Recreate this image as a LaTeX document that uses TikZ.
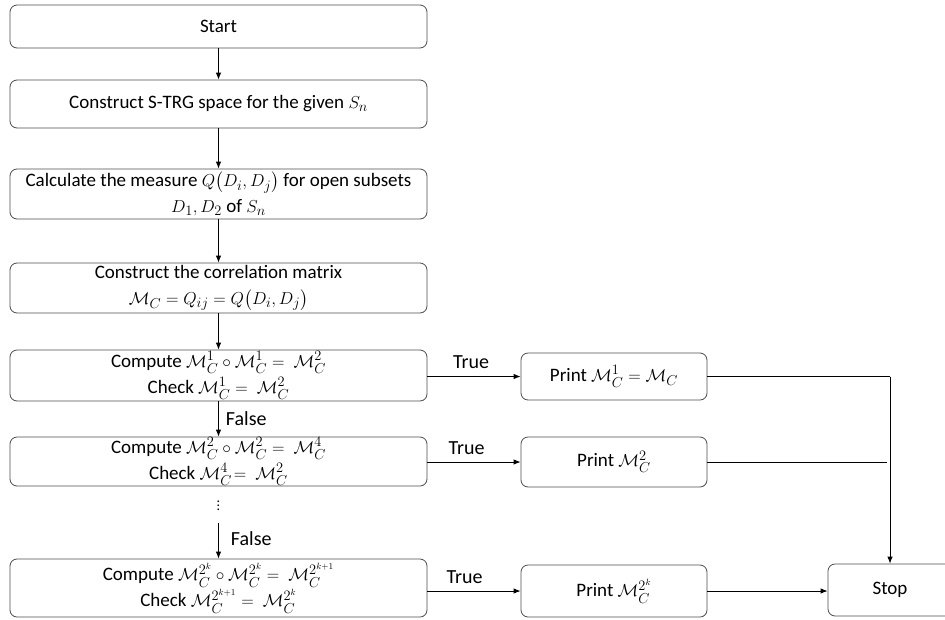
\documentclass[tikz,border=0pt]{standalone}
\usepackage{fontspec}
\setmainfont{Carlito}
\usepackage{amsmath}
\usetikzlibrary{arrows.meta}
\begin{document}
\begin{tikzpicture}[x=1pt,y=-1pt,
  box/.style={draw=black!70, line width=0.8pt, rounded corners=7pt, minimum width=417pt, inner sep=0pt, align=center, font=\fontsize{19}{26}\selectfont},
  pbox/.style={box, minimum width=186pt},
  arr/.style={-{Latex[length=7pt,width=5.5pt]}, line width=0.9pt},
  ln/.style={line width=0.9pt},
  lbl/.style={font=\fontsize{20}{22}\selectfont, inner sep=0pt}]
\useasboundingbox (0,0) rectangle (945,619);
\node[box, minimum height=43pt] (start) at (218.5,26.5) {Start};
\node[box, minimum height=48pt] (cons) at (218.5,104) {Construct S-TRG space for the given $S_n$};
\node[box, minimum height=50pt] (calc) at (218.5,194) {Calculate the measure $Q\big(D_i,D_j\big)$ for open subsets\\ $D_1,D_2$ of $S_n$};
\node[box, minimum height=50pt] (corr) at (218.5,288) {Construct the correlation matrix\\ $\mathcal{M}_C=Q_{ij}=Q\big(D_i,D_j\big)$};
\node[box, minimum height=51pt] (c1) at (218.5,375.5) {Compute $\mathcal{M}_C^1\circ\mathcal{M}_C^1 =\ \mathcal{M}_C^2$\\ Check $\mathcal{M}_C^1 =\ \mathcal{M}_C^2$};
\node[box, minimum height=49pt] (c2) at (218.5,461.5) {Compute $\mathcal{M}_C^2\circ\mathcal{M}_C^2 =\ \mathcal{M}_C^4$\\ Check $\mathcal{M}_C^4\!=\ \mathcal{M}_C^2$};
\node[font=\fontsize{14}{16}\selectfont, inner sep=0pt] (dots) at (218.5,503) {$\vdots$};
\node[box, minimum height=58pt] (ck) at (218.5,588) {Compute $\mathcal{M}_C^{2^k}\circ\mathcal{M}_C^{2^k} =\ \mathcal{M}_C^{2^{k+1}}$\\ Check $\mathcal{M}_C^{2^{k+1}} =\ \mathcal{M}_C^{2^k}$};

\node[pbox, minimum height=47pt] (p1) at (614,376.5) {Print $\mathcal{M}_C^1=\mathcal{M}_C$};
\node[pbox, minimum height=50pt] (p2) at (614,462) {Print $\mathcal{M}_C^2$};
\node[pbox, minimum height=52pt] (p3) at (614,591) {Print $\mathcal{M}_C^{2^k}$};
\node[box, minimum width=124pt, minimum height=52pt] (stop) at (890,590) {Stop};

\draw[arr] (start) -- (cons);
\draw[arr] (cons) -- (calc);
\draw[arr] (calc) -- (corr);
\draw[arr] (corr) -- (c1);
\draw[arr] (c1) -- node[lbl, right=7pt] {False} (c2);
\coordinate (d2) at (218.5,523);
\draw[arr] (d2) -- node[lbl, right=12pt, pos=0.45] {False} (ck);

\draw[arr] (c1.east |- p1) -- node[lbl, above=7pt, pos=0.47] {True} (p1.west);
\draw[arr] (c2.east |- p2) -- node[lbl, above=7pt, pos=0.42] {True} (p2.west);
\draw[arr] (ck.east |- p3) -- node[lbl, above=7pt, pos=0.4] {True} (p3.west);

\coordinate (j1) at (p1.east -| stop.north);
\coordinate (j2) at ([xshift=-3pt]p2.east -| stop.north);
\draw[ln] (p1.east) -- (j1);
\draw[arr] (j1) -- (stop.north);
\draw[ln] (p2.east) -- (j2);
\draw[arr] (p3.east) -- (stop.west |- p3.east);
\end{tikzpicture}
\end{document}
